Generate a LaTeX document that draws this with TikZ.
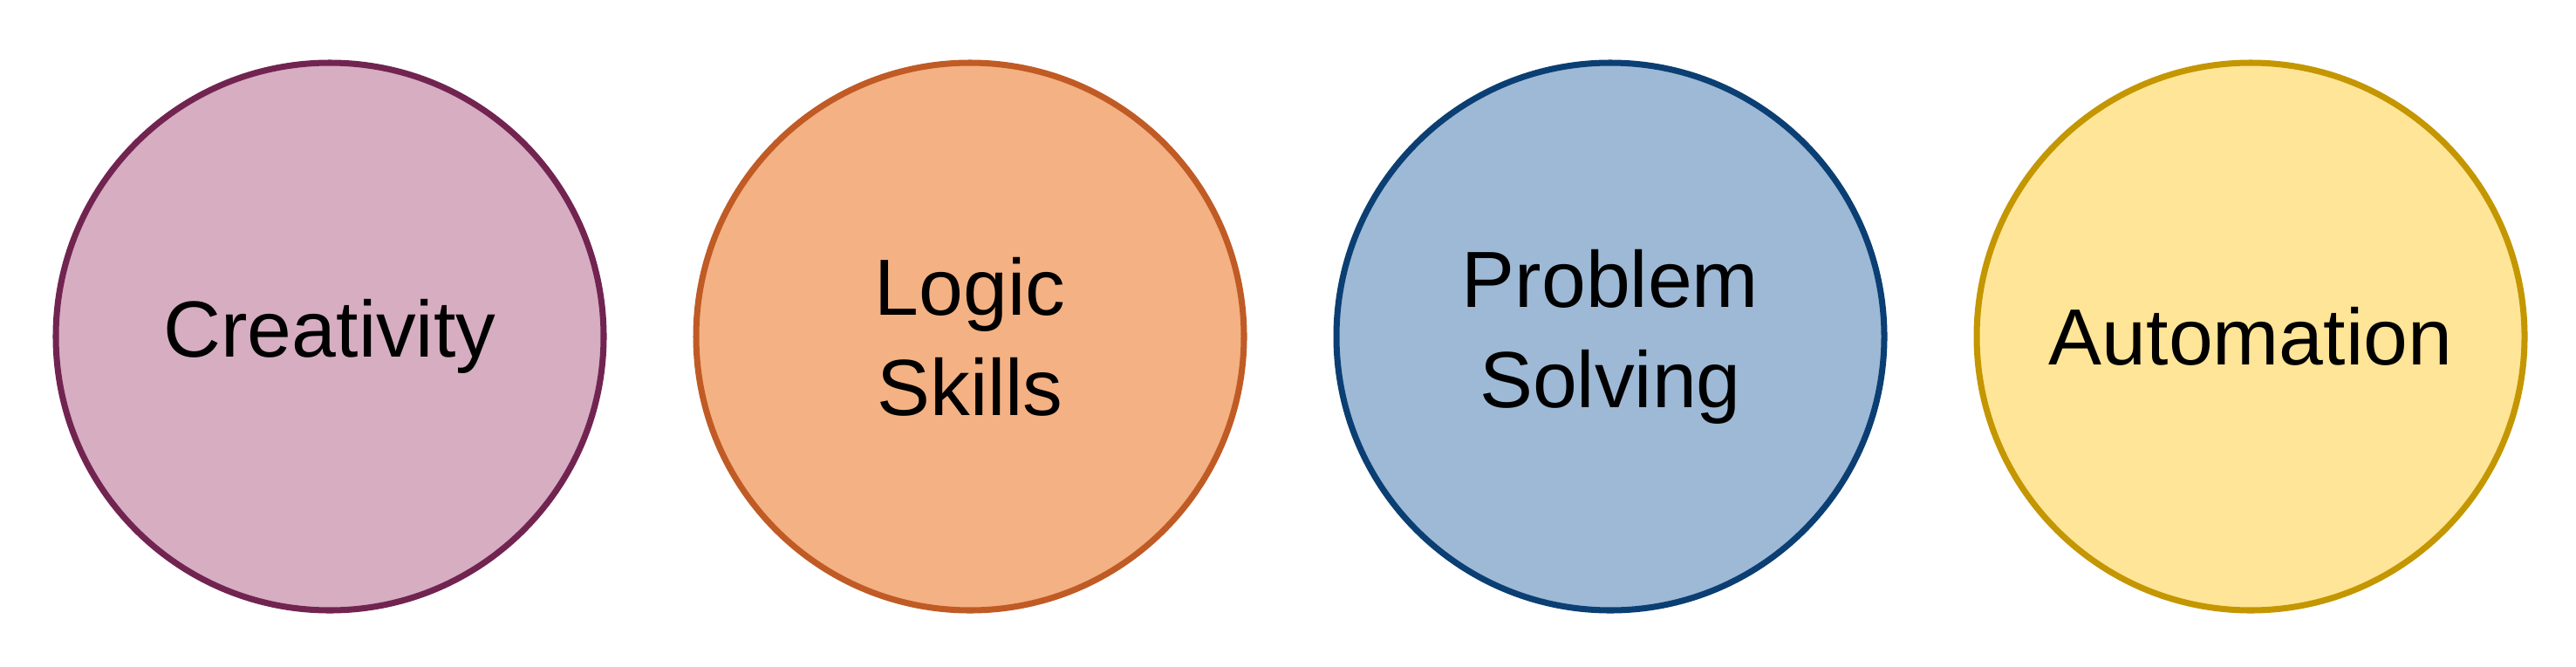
\documentclass[tikz,border=0pt]{standalone}
\usepackage{fontspec}
\setmainfont{Liberation Sans}
\usepackage{tikz}
\usetikzlibrary{positioning}

\definecolor{plumfill}{HTML}{D6ADC1}
\definecolor{plumline}{HTML}{722451}
\definecolor{orangefill}{HTML}{F4B183}
\definecolor{orangeline}{HTML}{C05B25}
\definecolor{bluefill}{HTML}{9DB9D6}
\definecolor{blueline}{HTML}{0B3F73}
\definecolor{yellowfill}{HTML}{FFE597}
\definecolor{yellowline}{HTML}{C49600}

\tikzset{
  skill/.style={circle,minimum size=6.28cm,line width=2pt,align=center,
    font=\fontsize{26}{32.7}\selectfont,inner sep=0pt}
}

\begin{document}
\begin{tikzpicture}
\useasboundingbox (0,0) rectangle (29.53,7.64);

\node[skill,fill=plumfill,draw=plumline] (creativity) at (3.78,3.78) {Creativity};
\node[skill,fill=orangefill,draw=orangeline] (logic) at (11.12,3.78) {Logic\\Skills};
\node[skill,fill=bluefill,draw=blueline] (problem) at (18.46,3.78) {Problem\\Solving};
\node[skill,fill=yellowfill,draw=yellowline] (automation) at (25.80,3.78) {Automation};
\end{tikzpicture}
\end{document}
